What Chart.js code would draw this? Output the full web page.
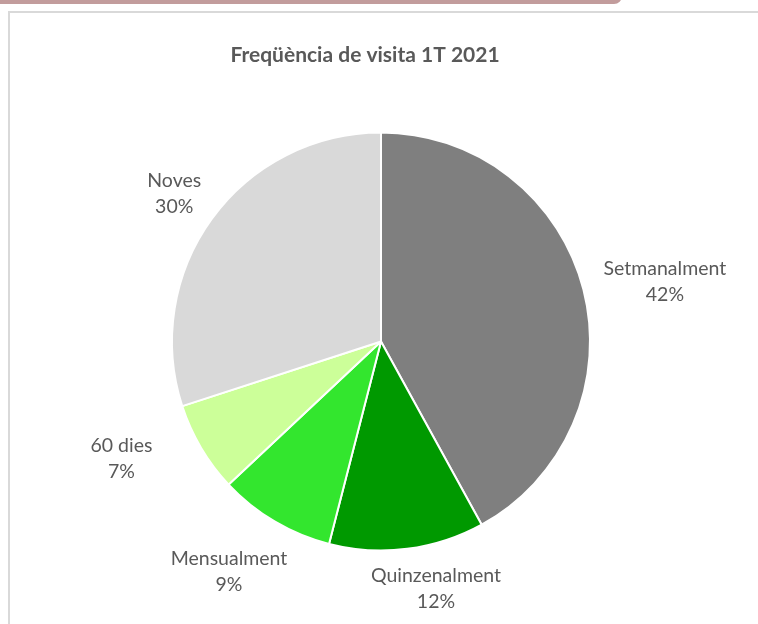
<!DOCTYPE html>
<html>
<head>
<meta charset="utf-8">
<script src="https://cdn.jsdelivr.net/npm/chart.js@4/dist/chart.umd.min.js"></script>
<style>
  html, body { margin: 0; padding: 0; background: #fff; overflow: hidden; }
  #wrap { position: relative; width: 758px; height: 624px; }
  #topbar { position: absolute; left: -10px; top: -6px; width: 632px; height: 10px;
            background: #c29c9c; border-radius: 0 0 8px 8px; }
  #frame { position: absolute; left: 8px; top: 11px; width: 800px; height: 700px;
           border: 2px solid #d9d9d9; }
  canvas { position: absolute; left: 0; top: 0; }
</style>
</head>
<body>
<div id="wrap">
  <div id="topbar"></div>
  <div id="frame"></div>
  <canvas id="pieChart" width="758" height="624"></canvas>
</div>
<script>
const chartTitle = "Freqüència de visita 1T 2021";
const categories = ["Setmanalment", "Quinzenalment", "Mensualment", "60 dies", "Noves"];
const shares = [42, 12, 9, 7, 30];
const sliceColors = ["#7f7f7f", "#009900", "#33e62e", "#ccff99", "#d9d9d9"];

const FONT = "Lato, 'Liberation Sans', sans-serif";
const TEXT = "#595959";

// hand tweaks so the outside labels sit where Excel put them
const labelNudge = [[6, 12], [23, -6], [-13, -5], [-35, -16], [2, 4]];

const pieLabels = {
    id: 'pieLabels',
    afterDatasetsDraw(chart) {
        const ctx = chart.ctx;
        const meta = chart.getDatasetMeta(0);
        const total = shares.reduce((a, b) => a + b, 0);
        ctx.save();
        ctx.font = "19.5px " + FONT;
        ctx.fillStyle = TEXT;
        ctx.textAlign = "center";
        ctx.textBaseline = "middle";
        const lineH = 26;
        meta.data.forEach((arc, i) => {
            const p = arc.getProps(['x', 'y', 'startAngle', 'endAngle', 'outerRadius'], true);
            const mid = (p.startAngle + p.endAngle) / 2;
            const dx = Math.cos(mid), dy = Math.sin(mid);
            const pct = Math.round(shares[i] / total * 100) + "%";
            const w = Math.max(ctx.measureText(categories[i]).width, ctx.measureText(pct).width);
            const h = lineH * 2;
            const gap = 12;
            const d = p.outerRadius + gap + Math.abs(dx) * w / 2 + Math.abs(dy) * h / 2;
            const cx = p.x + dx * d + labelNudge[i][0];
            const cy = p.y + dy * d + labelNudge[i][1];
            ctx.fillText(categories[i], cx, cy - lineH / 2);
            ctx.fillText(pct, cx, cy + lineH / 2);
        });
        ctx.font = "bold 21px " + FONT;
        ctx.fillText(chartTitle, 365, 55);
        ctx.restore();
    }
};

const ctx = document.getElementById("pieChart").getContext("2d");
new Chart(ctx, {
    type: 'pie',
    data: {
        labels: categories,
        datasets: [{
            data: shares,
            backgroundColor: sliceColors,
            borderColor: '#ffffff',
            borderWidth: 2
        }]
    },
    options: {
        responsive: false,
        animation: false,
        events: [],
        layout: { padding: { top: 131, bottom: 72, left: 171, right: 167 } },
        plugins: {
            legend: { display: false },
            title: { display: false },
            tooltip: { enabled: false }
        }
    },
    plugins: [pieLabels]
});
</script>
</body>
</html>
